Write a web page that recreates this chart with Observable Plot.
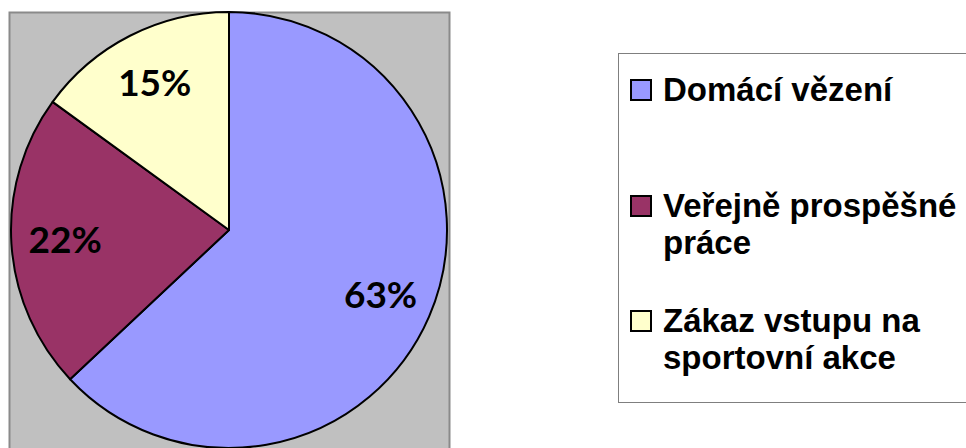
<!DOCTYPE html>
<html>
<head>
<meta charset="utf-8">
<script src="https://cdn.jsdelivr.net/npm/d3@7"></script>
<script src="https://cdn.jsdelivr.net/npm/@observablehq/plot@0.6"></script>
<style>
  html, body { margin: 0; padding: 0; background: #ffffff; }
  #wrap { position: relative; width: 966px; height: 448px; overflow: hidden; font-family: Lato, "Open Sans", sans-serif; }
  #legend {
    position: absolute; left: 618px; top: 53px; width: 420px; height: 350px;
    border: 1px solid #7f7f7f; background: #fff; box-sizing: border-box;
    padding-top: 17px; padding-left: 11px;
  }
  .item { display: flex; align-items: flex-start; font-family: "Liberation Sans", Arial, sans-serif; font-weight: bold; font-size: 33px; line-height: 37px; color: #000; }
  .item .mk { flex: none; width: 22px; height: 22px; box-sizing: border-box; border: 2px solid #000; margin-top: 8px; margin-right: 11px; }
  .item .txt div { white-space: nowrap; }
</style>
</head>
<body>
<div id="wrap"></div>
<script>
// ---- data ----
const categories = ["Domácí vězení", "Veřejně prospěšné práce", "Zákaz vstupu na sportovní akce"];
const values = [63, 22, 15];
const valueLabels = ["63%", "22%", "15%"];
const colors = ["#9999FF", "#993366", "#FFFFCC"];
const legendLines = [["Domácí vězení"], ["Veřejně prospěšné", "práce"], ["Zákaz vstupu na", "sportovní akce"]];

const rows = categories.map((c, i) => ({category: c, value: values[i], label: valueLabels[i]}));
const color = d3.scaleOrdinal(categories, colors);
const arcs = d3.pie().sort(null).value(d => d.value)(rows);
const labelRadius = 0.755;
const labelData = arcs.map(a => {
  const mid = (a.startAngle + a.endAngle) / 2;
  return {x: labelRadius * Math.sin(mid), y: labelRadius * Math.cos(mid), text: a.data.label};
});

function pieMark(index, scales) {
  const cx = scales.x(0), cy = scales.y(0);
  const r = Math.min(Math.abs(scales.x(1) - cx), Math.abs(scales.y(1) - cy));
  const arc = d3.arc().innerRadius(0).outerRadius(r);
  const g = d3.create("svg:g").attr("transform", `translate(${cx},${cy})`);
  g.selectAll("path").data(arcs).join("path")
    .attr("d", arc)
    .attr("fill", d => color(d.data.category))
    .attr("stroke", "#000")
    .attr("stroke-width", 2)
    .attr("stroke-linejoin", "round");
  return g.node();
}

const chart = Plot.plot({
  width: 966,
  height: 448,
  marginLeft: 9,
  marginTop: 12,
  marginRight: 517,
  marginBottom: 0,
  style: {fontFamily: "Lato, 'Open Sans', sans-serif", background: "transparent"},
  x: {domain: [-1.009, 1.009], axis: null},
  y: {domain: [-1, 1], axis: null},
  marks: [
    Plot.frame({fill: "#C0C0C0", stroke: "#8a8a8a", strokeWidth: 2, insetBottom: -10}),
    pieMark,
    Plot.text(labelData, {x: "x", y: "y", text: "text", fontSize: 37, fontWeight: "bold", fill: "#000"})
  ]
});

const wrap = document.getElementById("wrap");
wrap.appendChild(chart);

const legend = document.createElement("div");
legend.id = "legend";
const gaps = [79, 41, 0];
categories.forEach((c, i) => {
  const item = document.createElement("div");
  item.className = "item";
  item.style.marginBottom = gaps[i] + "px";
  const mk = document.createElement("div");
  mk.className = "mk";
  mk.style.background = color(c);
  const txt = document.createElement("div");
  txt.className = "txt";
  legendLines[i].forEach(line => {
    const d = document.createElement("div");
    d.textContent = line;
    txt.appendChild(d);
  });
  item.appendChild(mk);
  item.appendChild(txt);
  legend.appendChild(item);
});
wrap.appendChild(legend);
</script>
</body>
</html>
